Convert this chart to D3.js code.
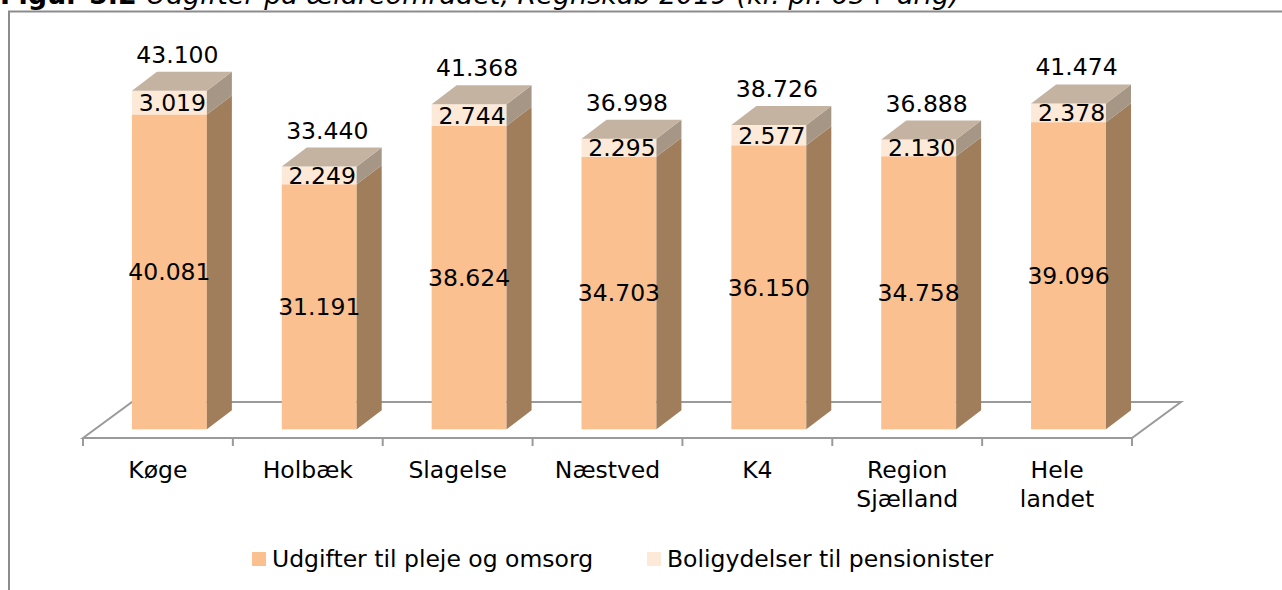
<!doctype html>
<html lang="da">
<head>
    <meta charset="UTF-8">
    <title>Udgifter på ældreområdet</title>
    <script src="https://d3js.org/d3.v7.min.js"></script>
    <style>
        body {
            margin: 0;
            background: #fff;
        }
        svg text {
            font-family: "DejaVu Sans", Verdana, sans-serif;
            fill: #000;
        }
    </style>
</head>
<body>
    <svg id="chart" width="1282" height="590"></svg>

    <script>
        // data (kr. pr. 65+ årig)
        const categories = [["Køge"], ["Holbæk"], ["Slagelse"], ["Næstved"], ["K4"], ["Region", "Sjælland"], ["Hele", "landet"]];
        const pleje = [40081, 31191, 38624, 34703, 36150, 34758, 39096];
        const bolig = [3019, 2249, 2744, 2295, 2577, 2130, 2378];
        const totals = [43100, 33440, 41368, 36998, 38726, 36888, 41474];
        const seriesNames = ["Udgifter til pleje og omsorg", "Boligydelser til pensionister"];

        const colors = {
            plejeFront: "#FAC08F",
            plejeSide: "#A07D5B",
            boligFront: "#FDE9D7",
            boligSide: "#A69685",
            top: "#C4B3A1",
            axis: "#9a9a9a"
        };

        const dk = d3.formatLocale({ decimal: ",", thousands: ".", grouping: [3], currency: ["", " kr."] });
        const fmt = dk.format(",d");

        const svg = d3.select("#chart");
        const fontSize = 23.5;

        // frame (the bottom and right edge are outside the picture)
        svg.append("rect")
            .attr("x", 9).attr("y", 11.5)
            .attr("width", 1320).attr("height", 620)
            .attr("fill", "none")
            .attr("stroke", "#8c8c8c")
            .attr("stroke-width", 2);

        // title, mostly cut off at the top like in the source page
        const title = svg.append("text")
            .attr("x", 0).attr("y", 4)
            .style("font-size", "27px");
        title.append("tspan").attr("font-weight", "bold").text("Figur 5.2 ");
        title.append("tspan").attr("font-style", "italic").text("Udgifter på ældreområdet, Regnskab 2019 (kr. pr. 65+ årig)");

        const x = d3.scaleBand()
            .domain(d3.range(categories.length))
            .range([83, 1132]);

        const floorY = 438;
        const floorDx = 49, floorDy = 36;
        const y = d3.scaleLinear()
            .domain([0, 45000])
            .range([429.3, 429.3 - 45000 * (338.6 / 43100)]);

        const barW = x.bandwidth() * 0.5;
        const dx = 25, dy = 19;
        const barLeft = i => x(i) + x.bandwidth() / 2 - 26;

        // floor
        const floor = svg.append("g")
            .attr("fill", "none")
            .attr("stroke", colors.axis)
            .attr("stroke-width", 2);
        const [x0, x1] = x.range();
        floor.append("path")
            .attr("d", `M${x0},${floorY}L${x0 + floorDx},${floorY - floorDy}L${x1 + floorDx},${floorY - floorDy}L${x1},${floorY}Z`)
            .attr("fill", "#fff");
        floor.selectAll("line")
            .data(d3.range(categories.length + 1))
            .join("line")
            .attr("x1", i => x0 + i * x.bandwidth())
            .attr("x2", i => x0 + i * x.bandwidth())
            .attr("y1", floorY)
            .attr("y2", floorY + 8);

        function side(xr, yTop, yBot) {
            return `${xr},${yTop} ${xr + dx},${yTop - dy} ${xr + dx},${yBot - dy} ${xr},${yBot}`;
        }

        const bars = svg.append("g")
            .selectAll("g")
            .data(categories.map((c, i) => i))
            .join("g");

        // pleje segment
        bars.append("rect")
            .attr("x", i => barLeft(i))
            .attr("y", i => y(pleje[i]))
            .attr("width", barW)
            .attr("height", i => y(0) - y(pleje[i]))
            .attr("fill", colors.plejeFront);
        bars.append("polygon")
            .attr("points", i => side(barLeft(i) + barW, y(pleje[i]), y(0)))
            .attr("fill", colors.plejeSide);

        // bolig segment
        bars.append("rect")
            .attr("x", i => barLeft(i))
            .attr("y", i => y(pleje[i] + bolig[i]))
            .attr("width", barW)
            .attr("height", i => y(pleje[i]) - y(pleje[i] + bolig[i]))
            .attr("fill", colors.boligFront);
        bars.append("polygon")
            .attr("points", i => side(barLeft(i) + barW, y(pleje[i] + bolig[i]), y(pleje[i])))
            .attr("fill", colors.boligSide);

        // top face
        bars.append("polygon")
            .attr("points", i => {
                const l = barLeft(i), t = y(pleje[i] + bolig[i]);
                return `${l},${t} ${l + dx},${t - dy} ${l + barW + dx},${t - dy} ${l + barW},${t}`;
            })
            .attr("fill", colors.top);

        // value labels
        bars.append("text")
            .attr("x", i => barLeft(i) + barW / 2)
            .attr("y", i => (y(0) + y(pleje[i])) / 2 + fontSize * 0.36)
            .attr("text-anchor", "middle")
            .style("font-size", fontSize + "px")
            .text(i => fmt(pleje[i]));
        bars.append("text")
            .attr("x", i => barLeft(i) + barW / 2 + 3)
            .attr("y", i => (y(pleje[i]) + y(pleje[i] + bolig[i])) / 2 + fontSize * 0.36)
            .attr("text-anchor", "middle")
            .style("font-size", fontSize + "px")
            .text(i => fmt(bolig[i]));
        bars.append("text")
            .attr("x", i => barLeft(i) + barW / 2 + 8)
            .attr("y", i => y(pleje[i] + bolig[i]) - 28)
            .attr("text-anchor", "middle")
            .style("font-size", fontSize + "px")
            .text(i => fmt(totals[i]));

        // category labels
        svg.append("g")
            .selectAll("text")
            .data(categories)
            .join("text")
            .attr("x", (c, i) => x(i) + x.bandwidth() / 2)
            .attr("y", 478.3)
            .attr("text-anchor", "middle")
            .style("font-size", fontSize + "px")
            .selectAll("tspan")
            .data(c => c)
            .join("tspan")
            .attr("x", function () { return this.parentNode.getAttribute("x"); })
            .attr("dy", (d, j) => j === 0 ? 0 : 29)
            .text(d => d);

        // legend
        const legendX = [252, 647];
        const legend = svg.append("g")
            .selectAll("g")
            .data(seriesNames)
            .join("g")
            .attr("transform", (d, i) => `translate(${legendX[i]},552)`);
        legend.append("rect")
            .attr("width", 14).attr("height", 14)
            .attr("fill", (d, i) => i === 0 ? colors.plejeFront : colors.boligFront);
        legend.append("text")
            .attr("x", 20).attr("y", 14.7)
            .style("font-size", fontSize + "px")
            .text(d => d);
    </script>
</body>
</html>
